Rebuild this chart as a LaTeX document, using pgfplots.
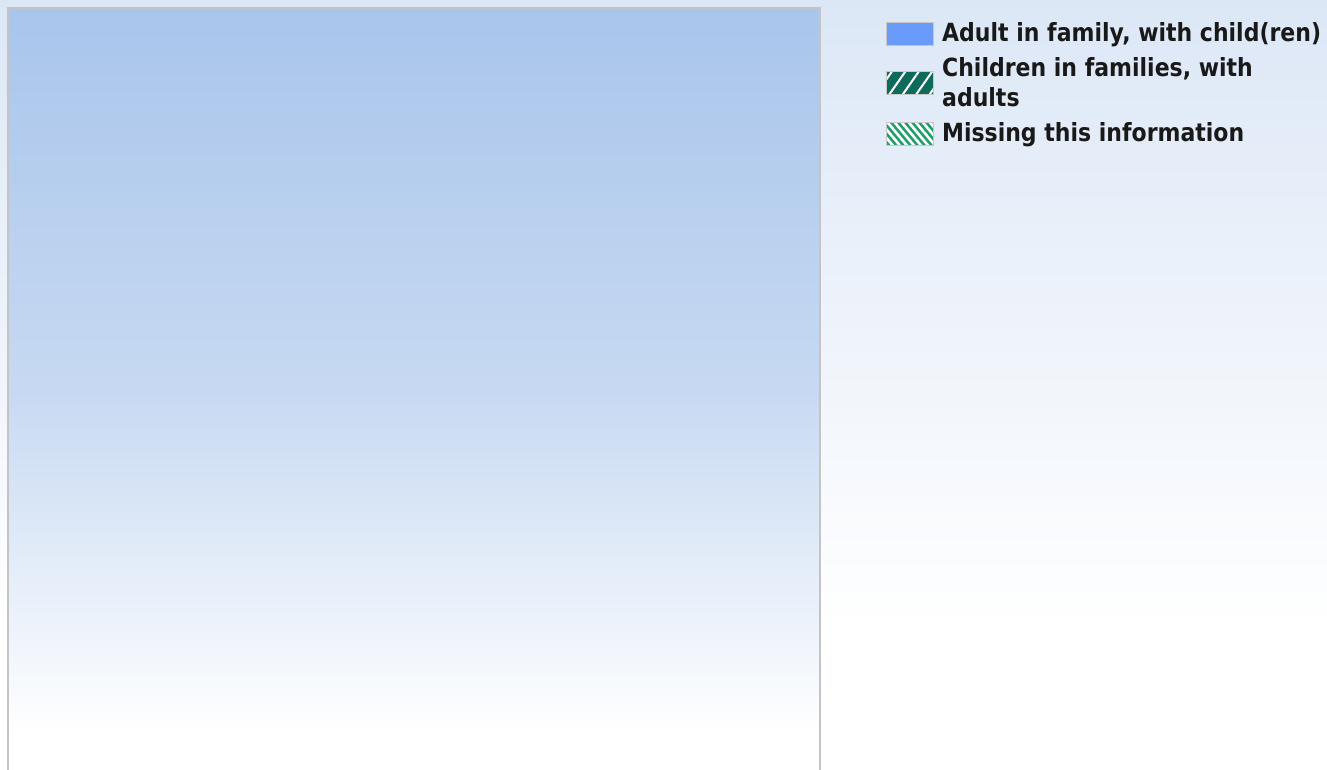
\documentclass[border=0pt]{standalone}
\usepackage{pgfplots}
\pgfplotsset{compat=1.18}
\usepackage{fontspec}
\usetikzlibrary{patterns.meta}
\newfontfamily\legfont{DejaVu Sans}[FakeStretch=0.88]
\definecolor{bgtop}{HTML}{DCE7F6}
\definecolor{axtop}{HTML}{A9C5EB}
\definecolor{bordergray}{HTML}{C4C4C4}
\definecolor{swgray}{HTML}{C8C8C8}
\definecolor{adultblue}{HTML}{6B9BFA}
\definecolor{childteal}{HTML}{0E6B5C}
\definecolor{missgreen}{HTML}{1F9E6A}
\pgfdeclareverticalshading{axshade}{100bp}{color(0bp)=(white); color(28bp)=(white); color(50bp)=(axtop!65!white); color(75bp)=(axtop); color(100bp)=(axtop)}
\pgfdeclareverticalshading{bgshade}{100bp}{color(0bp)=(white); color(25bp)=(white); color(75bp)=(bgtop); color(100bp)=(bgtop)}
\begin{document}
\begin{tikzpicture}
\clip (0,0) rectangle (663.5pt,385pt);
\fill[white] (0,0) rectangle (663.5pt,385pt);
\shade[shading=bgshade] (0,70pt) rectangle (663.5pt,385pt);
\begin{axis}[
  at={(4pt,-5pt)}, anchor=south west,
  scale only axis, width=406pt, height=386pt,
  xmin=0, xmax=1, ymin=0, ymax=1,
  xtick=\empty, ytick=\empty,
  axis line style={draw=bordergray, line width=1pt},
  axis background/.style={shading=axshade},
  legend cell align=left,
  legend style={at={(rel axis cs:1.08,0.982)}, anchor=north west,
    draw=none, fill=none, inner sep=0pt, outer sep=0pt,
    column sep=3.8pt, row sep=5.75pt,
    font=\legfont\bfseries\fontsize{12.5pt}{15pt}\selectfont,
    text=black!90,
    cells={align=left},
    nodes={inner sep=0pt}},
]
\addlegendimage{legend image code/.code={
  \draw[draw=swgray, line width=0.5pt, fill=adultblue] (0pt,-5.75pt) rectangle (23.5pt,5.75pt);}}
\addlegendentry{Adult in family, with child(ren)}
\addlegendimage{legend image code/.code={
  \fill[childteal] (0pt,-5.75pt) rectangle (23.5pt,5.75pt);
  \fill[pattern={Lines[angle=55,distance=5.5pt,line width=1pt]}, pattern color=white] (0pt,-5.75pt) rectangle (23.5pt,5.75pt);
  \draw[draw=swgray, line width=0.5pt] (0pt,-5.75pt) rectangle (23.5pt,5.75pt);}}
\addlegendentry{Children in families, with\\adults}
\addlegendimage{legend image code/.code={
  \fill[missgreen] (0pt,-5.75pt) rectangle (23.5pt,5.75pt);
  \fill[pattern={Lines[angle=-50,distance=2.7pt,line width=1.3pt]}, pattern color=white] (0pt,-5.75pt) rectangle (23.5pt,5.75pt);
  \draw[draw=swgray, line width=0.5pt] (0pt,-5.75pt) rectangle (23.5pt,5.75pt);}}
\addlegendentry{Missing this information}
\end{axis}
\end{tikzpicture}
\end{document}
